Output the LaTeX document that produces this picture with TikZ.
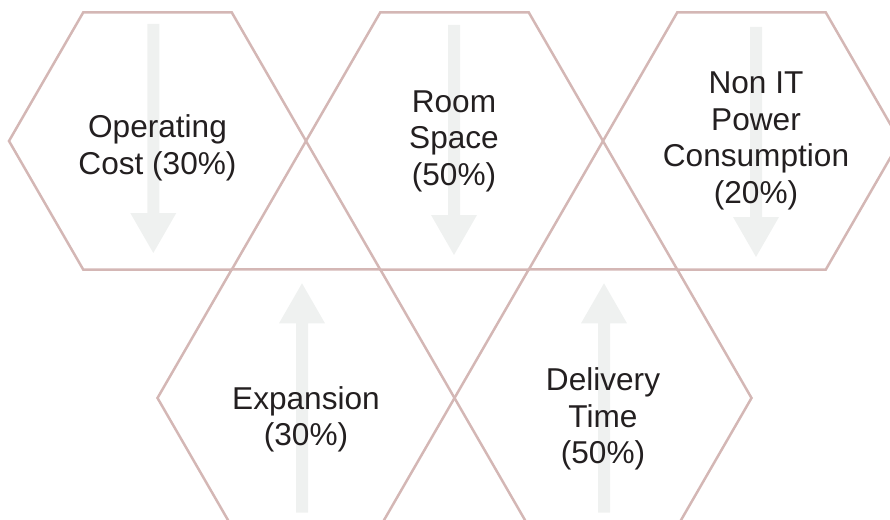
\documentclass[tikz,border=0pt]{standalone}
\usepackage{fontspec}
\setmainfont{Liberation Sans}
\usetikzlibrary{shapes.geometric}
\definecolor{hexline}{RGB}{212,183,181}
\definecolor{arrowgray}{RGB}{239,241,240}
\definecolor{textblack}{RGB}{35,31,32}
\begin{document}
\begin{tikzpicture}[x=1pt,y=-1pt,
  hexagon/.style={draw=hexline, line width=2.5pt, regular polygon, regular polygon sides=6, minimum size=297pt, inner sep=0pt},
  txt/.style={text=textblack, align=center, font=\fontsize{31.6}{36.6}\selectfont}]
\useasboundingbox (0,0) rectangle (890,519);
\clip (0,0) rectangle (890,519);
\node[hexagon] (hexA) at (157.5,141) {};
\node[hexagon] (hexB) at (454.5,141) {};
\node[hexagon] (hexC) at (751.5,141) {};
\node[hexagon] (hexD) at (306,398) {};
\node[hexagon] (hexE) at (603,398) {};
\fill[arrowgray] (147.3,24) -- (159.3,24) -- (159.3,213) -- (176.3,213) -- (153.3,253) -- (130.3,213) -- (147.3,213) -- cycle;
\fill[arrowgray] (448,25) -- (460,25) -- (460,215) -- (477,215) -- (454,255) -- (431,215) -- (448,215) -- cycle;
\fill[arrowgray] (750,27) -- (762,27) -- (762,217) -- (779,217) -- (756,257) -- (733,217) -- (750,217) -- cycle;
\fill[arrowgray] (296,512.7) -- (308,512.7) -- (308,323.3) -- (325,323.3) -- (302,283.3) -- (279,323.3) -- (296,323.3) -- cycle;
\fill[arrowgray] (598,512.7) -- (610,512.7) -- (610,323.3) -- (627,323.3) -- (604,283.3) -- (581,323.3) -- (598,323.3) -- cycle;
\node[txt] (opcost) at (157.5,148) {Operating\\Cost (30\%)};
\node[txt] (room) at (454,141.3) {Room\\Space\\(50\%)};
\node[txt] (nonit) at (756,141) {Non IT\\Power\\Consumption\\(20\%)};
\node[txt] (expand) at (306,419.5) {Expansion\\(30\%)};
\node[txt] (deliver) at (603,419) {Delivery\\Time\\(50\%)};
\end{tikzpicture}
\end{document}
